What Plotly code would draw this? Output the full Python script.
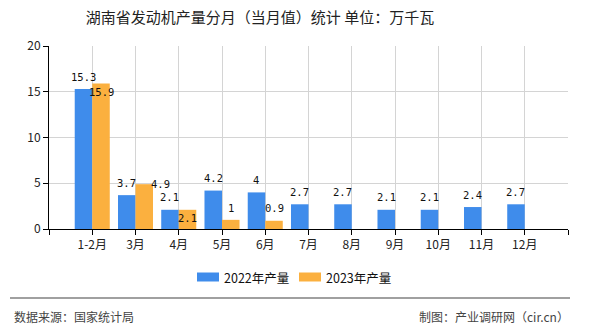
import plotly.graph_objects as go

# Monthly engine output in Hunan (unit: 10k kW)
categories = ["1-2月", "3月", "4月", "5月", "6月", "7月", "8月", "9月", "10月", "11月", "12月"]
output_2022 = [15.3, 3.7, 2.1, 4.2, 4, 2.7, 2.7, 2.1, 2.1, 2.4, 2.7]
output_2023 = [15.9, 4.9, 2.1, 1, 0.9]
series_names = ["2022年产量", "2023年产量"]
y_ticks = [0, 5, 10, 15, 20]

BLUE = "#3F8CEB"
ORANGE = "#FBB03F"
CJK = "Noto Sans CJK SC"
LABEL_FONT = dict(family="DejaVu Sans Mono, Liberation Mono", size=10.5, color="#111")

# pixel offsets (dx, dy) of the 2023 value labels, relative to bar top centre
orange_label_shift = [(0, -8.5), (16, 0), (0, -8), (0, 12), (0, 12.5)]

W, H = 590, 330
ML, MR, MT, MB = 49, 22, 46, 101
plot_w = W - ML - MR
plot_h = H - MT - MB

xs = list(range(len(categories)))
n = len(categories)

fig = go.Figure()
fig.add_trace(go.Bar(x=xs, y=output_2022, name=series_names[0], marker=dict(color=BLUE, line_width=0)))
fig.add_trace(go.Bar(x=xs[:len(output_2023)], y=output_2023, name=series_names[1],
                     marker=dict(color=ORANGE, line_width=0)))

bargap = 0.19
half = (1 - bargap) / 4  # centre offset of each bar inside a group

annotations = []
for i, v in enumerate(output_2022):
    annotations.append(dict(x=i - half, y=v, xref="x", yref="y", text=str(v), showarrow=False,
                            yanchor="middle", xanchor="center", yshift=12.5, font=LABEL_FONT))
for i, v in enumerate(output_2023):
    dx, dy = orange_label_shift[i]
    annotations.append(dict(x=i + half, y=v, xref="x", yref="y", text=str(v), showarrow=False,
                            yanchor="middle", xanchor="center", xshift=dx, yshift=dy, font=LABEL_FONT))


def px_x(p):
    return (p - ML) / plot_w


def px_y(p):
    return (H - MB - p) / plot_h


# legend drawn by hand: wide rectangles with labels
shapes = []
legend_items = [(197, 219, BLUE, series_names[0], 222), (299, 321, ORANGE, series_names[1], 324)]
for x0, x1, col, name, tx in legend_items:
    shapes.append(dict(type="rect", xref="paper", yref="paper", x0=px_x(x0), x1=px_x(x1),
                       y0=px_y(281.5), y1=px_y(272.5), fillcolor=col, line_width=0))
    annotations.append(dict(x=px_x(tx), y=px_y(277), xref="paper", yref="paper", text=name,
                            showarrow=False, xanchor="left", yanchor="middle",
                            font=dict(family=CJK, size=12.5, color="#111")))

# footer rule and credits
shapes.append(dict(type="line", xref="paper", yref="paper", x0=px_x(10), x1=px_x(570),
                   y0=px_y(298), y1=px_y(298), line=dict(color="#808080", width=1.5)))
annotations.append(dict(x=px_x(12), y=px_y(316), xref="paper", yref="paper", text="数据来源：国家统计局",
                        showarrow=False, xanchor="left", yanchor="middle",
                        font=dict(family=CJK, size=12, color="#444")))
annotations.append(dict(x=px_x(571), y=px_y(316), xref="paper", yref="paper", text="制图：产业调研网（cir.cn）",
                        showarrow=False, xanchor="right", yanchor="middle",
                        font=dict(family=CJK, size=12, color="#444")))

fig.update_layout(
    width=W, height=H,
    margin=dict(l=ML, r=MR, t=MT, b=MB),
    paper_bgcolor="white", plot_bgcolor="white",
    barmode="group", bargap=bargap, bargroupgap=0,
    showlegend=False,
    title=dict(text="湖南省发动机产量分月（当月值）统计 单位：万千瓦", xref="container", yref="container",
               x=260 / W, y=1 - 18 / H, xanchor="center", yanchor="middle",
               font=dict(family=CJK, size=15, color="#222")),
    xaxis=dict(range=[-1, n], tickvals=list(range(-1, n + 1)),
               ticktext=[""] + categories + [""],
               showgrid=True, gridcolor="#d4d4d4", gridwidth=1,
               showline=True, linecolor="#000", linewidth=1,
               ticks="outside", ticklen=5, tickcolor="#000",
               tickfont=dict(family=CJK, size=12, color="#222"), zeroline=False),
    yaxis=dict(range=[0, 20], tickvals=y_ticks,
               showgrid=True, gridcolor="#d4d4d4", gridwidth=1,
               showline=True, linecolor="#000", linewidth=1,
               ticks="outside", ticklen=5, tickcolor="#000",
               tickfont=dict(family=CJK, size=12, color="#222"), zeroline=False),
    annotations=annotations,
    shapes=shapes,
)

fig.write_html("out.html")
